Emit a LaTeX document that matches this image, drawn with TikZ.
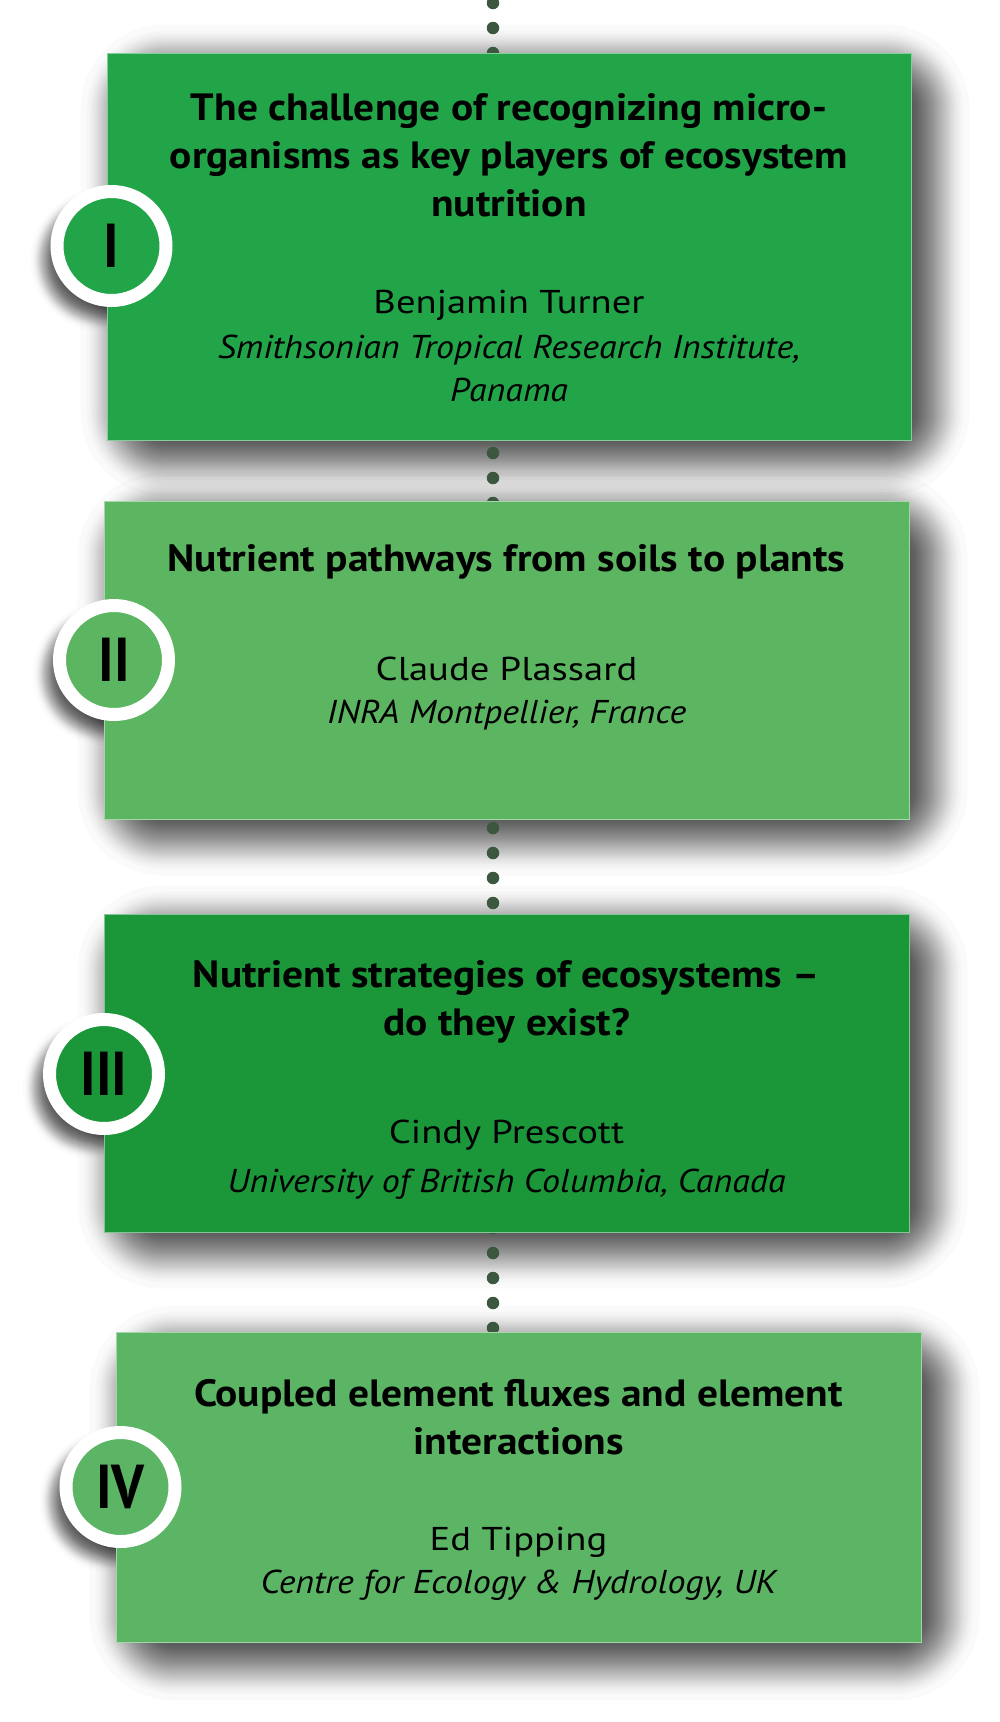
\documentclass[tikz,border=0pt]{standalone}
\usepackage{fontspec}
\setmainfont{PT Sans}
\newfontfamily\numfont[FakeStretch=0.88]{PT Sans}
\newfontfamily\ttlfont[FakeStretch=1.09]{PT Sans}
\newfontfamily\nmfont[FakeStretch=1.17]{PT Sans}
\newfontfamily\afffont[FakeStretch=1.09]{PT Sans}
\usetikzlibrary{backgrounds}
\definecolor{cI}{RGB}{34,164,73}
\definecolor{cII}{RGB}{92,181,96}
\definecolor{cIII}{RGB}{27,151,58}
\definecolor{cIV}{RGB}{91,181,101}
\definecolor{dotcol}{RGB}{59,88,62}
\tikzset{
  box/.style={rectangle, inner sep=0pt, line width=1pt},
  circ/.style={circle, draw=white, line width=13pt, minimum size=109pt, inner sep=0pt, text=black, font=\numfont\bfseries\fontsize{62}{62}\selectfont},
  ttl/.style={anchor=base, inner sep=0pt, align=center, text=black, font=\ttlfont\bfseries\fontsize{38}{48}\selectfont},
  nm/.style={anchor=base, inner sep=0pt, align=center, text=black, font=\nmfont\fontsize{33}{43}\selectfont},
  aff/.style={anchor=base, inner sep=0pt, align=center, text=black, font=\afffont\itshape\fontsize{33}{43}\selectfont},
  dots/.style={draw=dotcol, line width=12.5pt, line cap=round, dash pattern=on 0pt off 25pt},
  boxshadowlayer/.style={fill=black, opacity=0.0199},
  circshadowlayer/.style={fill=black, opacity=0.0155}
}
% soft shadow of a rectangular node: #1 node, #2 dx, #3 dy, #4 blur half-width
% layer offsets follow an inverse smoothstep so that the fade is smooth at both ends
\newcommand\mysoftshadow[4]{%
  \foreach \i in {0,...,59}{%
    \pgfmathsetmacro\uu{0.5-sin(asin(1-2*\i/59)/3)}%
    \pgfmathsetmacro\ee{#4-2*#4*\uu}%
    \pgfmathsetmacro\rc{\ee+#4+1}%
    \fill[boxshadowlayer, rounded corners=\rc pt]
      ([shift={(#2-\ee,#3-\ee)}]#1.north west) rectangle ([shift={(#2+\ee,#3+\ee)}]#1.south east);
  }%
}
% soft shadow of a circular node: #1 node, #2 dx, #3 dy, #4 blur half-width, #5 radius
\newcommand\mysoftcircshadow[5]{%
  \foreach \i in {0,...,59}{%
    \pgfmathsetmacro\uu{0.5-sin(asin(1-2*\i/59)/3)}%
    \pgfmathsetmacro\ee{#4-2*#4*\uu}%
    \fill[circshadowlayer] ([shift={(#2,#3)}]#1.center) circle ({#5+\ee});
  }%
}
\begin{document}
\begin{tikzpicture}[x=1pt,y=-1pt]
\useasboundingbox (0,0) rectangle (1000,1722);
% boxes
\node[box, fill=cI, draw=cI!55!white, minimum width=804pt, minimum height=387pt] (b1) at (509,246.5) {};
\node[box, fill=cII, draw=cII!55!white, minimum width=805pt, minimum height=318pt] (b2) at (506.5,660) {};
\node[box, fill=cIII, draw=cIII!55!white, minimum width=805pt, minimum height=318pt] (b3) at (506.5,1073) {};
\node[box, fill=cIV, draw=cIV!55!white, minimum width=805pt, minimum height=310pt] (b4) at (518.5,1487) {};
% circles
\node[circ, fill=cI] (c1) at (111.5,246) {I};
\node[circ, fill=cII] (c2) at (114,660) {II};
\node[circ, fill=cIII] (c3) at (104,1074) {III};
\node[circ, fill=cIV] (c4) at (120.5,1487) {IV};
% texts (base = baseline of the last line)
\node[ttl] (t1) at (509,216.5) {The challenge of recognizing micro-\\organisms as key players of ecosystem\\nutrition};
\node[nm] (n1) at (509,313) {Benjamin Turner};
\node[aff] (a1) at (509,401) {Smithsonian Tropical Research Institute,\\Panama};
\node[ttl] (t2) at (506.5,571.5) {Nutrient pathways from soils to plants};
\node[nm] (n2) at (506.5,680) {Claude Plassard};
\node[aff] (a2) at (506.5,723) {INRA Montpellier, France};
\node[ttl] (t3) at (506.5,1035) {Nutrient strategies of ecosystems –\\do they exist?};
\node[nm] (n3) at (506.5,1143) {Cindy Prescott};
\node[aff] (a3) at (506.5,1192) {University of British Columbia, Canada};
\node[ttl] (t4) at (518.5,1454) {Coupled element fluxes and element\\interactions};
\node[nm] (n4) at (518.5,1550) {Ed Tipping};
\node[aff] (a4) at (518.5,1593) {Centre for Ecology \& Hydrology, UK};
% background: shadows and dotted connector
\coordinate (dtop) at (493,3);
\coordinate (dbot) at (493,1340);
\begin{pgfonlayer}{background}
\fill[white] (0,0) rectangle (1000,1722);
\mysoftshadow{b1}{16}{14}{42}
\mysoftshadow{b2}{16}{14}{42}
\mysoftshadow{b3}{16}{14}{42}
\mysoftshadow{b4}{16}{16}{42}
\mysoftcircshadow{c1}{-10}{14}{16}{55}
\mysoftcircshadow{c2}{-10}{14}{16}{55}
\mysoftcircshadow{c3}{-10}{14}{16}{55}
\mysoftcircshadow{c4}{-10}{14}{16}{55}
\draw[dots] (dtop) -- (dbot);
\end{pgfonlayer}
\end{tikzpicture}
\end{document}
